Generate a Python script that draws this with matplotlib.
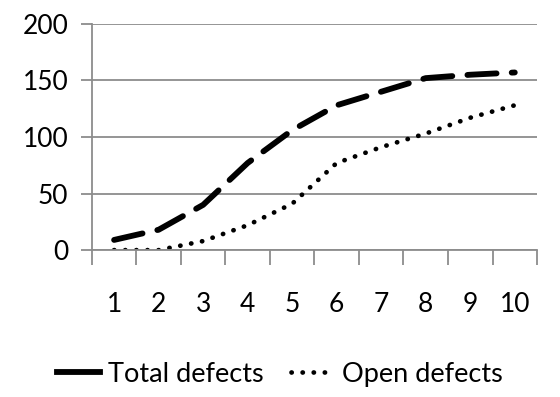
import matplotlib.pyplot as plt
import numpy as np

weeks = ['1', '2', '3', '4', '5', '6', '7', '8', '9', '10']
total_defects = [9, 18, 40, 77, 106, 128, 140, 152, 155, 157]
open_defects = [0, 0, 8, 22, 41, 77, 91, 103, 117, 128]

plt.rcParams['font.family'] = ['Lato', 'DejaVu Sans']

fig = plt.figure(figsize=(5.6, 3.97), dpi=100)
ax = fig.add_axes([0.164, 0.370, 0.795, 0.570])

x = np.arange(len(weeks))
ax.plot(x, total_defects, color='black', lw=4.2, dashes=(5.0, 2.6),
        dash_capstyle='round', label='Total defects')
ax.plot(x, open_defects, color='black', lw=3.4, dashes=(0.05, 2.3),
        dash_capstyle='round', label='Open defects')

ax.set_xlim(-0.5, len(weeks) - 0.5)
ax.set_ylim(0, 200)
ax.set_yticks([0, 50, 100, 150, 200])
ax.set_xticks(x)
ax.set_xticklabels(weeks)
ax.set_xticks(np.arange(-0.5, len(weeks)), minor=True)

ax.grid(axis='y', color='#8c8c8c', lw=1.3)
ax.set_axisbelow(True)
for side in ['top', 'right']:
    ax.spines[side].set_visible(False)
ax.spines['left'].set_color('#8c8c8c')
ax.spines['bottom'].set_color('#8c8c8c')
ax.spines['left'].set_linewidth(1.3)
ax.spines['bottom'].set_linewidth(1.3)

ax.tick_params(axis='x', which='major', length=0, pad=30, labelsize=19)
ax.tick_params(axis='x', which='minor', length=11, color='#8c8c8c', width=1.3)
ax.tick_params(axis='y', length=8, color='#8c8c8c', width=1.3, labelsize=19, pad=9)

leg = fig.legend(loc='lower center', bbox_to_anchor=(0.5, -0.035), ncol=2, frameon=False,
                 fontsize=19.5, handlelength=1.6, handletextpad=0.3, columnspacing=1.0)
# legend shows the long dash as one solid bar
leg.get_lines()[0].set_linestyle('-')

fig.savefig('out.png', dpi=100)
